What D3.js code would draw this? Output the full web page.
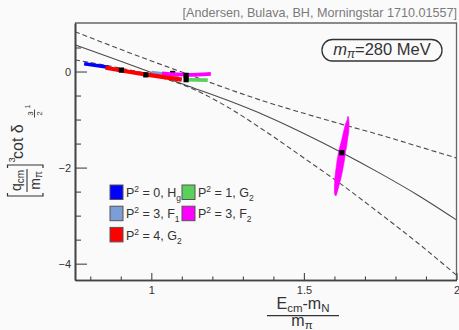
<!DOCTYPE html>
<html>
<head>
<meta charset="utf-8">
<script src="https://cdn.jsdelivr.net/npm/d3@7"></script>
<style>
  html, body { margin: 0; padding: 0; background: #fafafa; }
  svg { display: block; }
  text { font-family: "Liberation Sans", Arial, sans-serif; fill: #333; }
</style>
</head>
<body>
<svg id="chart" width="459" height="330"></svg>
<script>
// ---- fit curves sampled in (E_cm - m_N)/m_pi ----
const curveX     = [0.75, 0.875, 1.0, 1.125, 1.25, 1.375, 1.5, 1.625, 1.75, 1.875, 2.0];
const fitCentral = [0.556, 0.27, -0.02, -0.31, -0.60, -0.92, -1.29, -1.69, -2.12, -2.58, -3.09];
const fitUpper   = [0.83, 0.52, 0.22, -0.07, -0.36, -0.63, -0.87, -1.10, -1.32, -1.56, -1.80];
const fitLower   = [0.24, 0.10, -0.07, -0.33, -0.74, -1.25, -1.80, -2.36, -2.96, -3.58, -4.24];

// ---- bootstrap bands per irrep (centre line of each sample cloud) ----
const hgX  = [0.78, 0.86];          const hgY  = [0.16, 0.09];          // P^2=0, Hg
const g2aX = [1.115, 1.185];        const g2aY = [-0.17, -0.18];        // P^2=1, G2
const f1X  = [1.00, 1.09];          const f1Y  = [-0.02, -0.09];        // P^2=3, F1
const f2X  = [1.035, 1.12, 1.195];  const f2Y  = [-0.04, -0.07, -0.05]; // P^2=3, F2 (low level)
const g2bX = [0.85, 0.98, 1.10];    const g2bY = [0.08, -0.06, -0.17];  // P^2=4, G2

// P^2=3, F2 upper level: spread in E at each value of the ordinate
const f2CloudY  = [-0.94, -1.00, -1.10, -1.25, -1.42, -1.56, -1.69, -1.84, -1.98, -2.12, -2.26, -2.40, -2.52, -2.58];
const f2CloudLo = [1.643, 1.642, 1.636, 1.630, 1.624, 1.618, 1.613, 1.609, 1.606, 1.603, 1.601, 1.600, 1.600, 1.602];
const f2CloudHi = [1.646, 1.647, 1.648, 1.647, 1.643, 1.640, 1.636, 1.633, 1.629, 1.625, 1.620, 1.614, 1.609, 1.606];

// ---- mean values ----
const meanX = [0.902, 0.982, 1.114, 1.114, 1.624];
const meanY = [0.03, -0.07, -0.08, -0.17, -1.69];
const hiddenMeanX = [1.07];
const hiddenMeanY = [-0.04];

// ---- axes ----
const xMajor = [1, 1.5, 2];
const xMinor = [0.8, 0.9, 1.1, 1.2, 1.3, 1.4, 1.6, 1.7, 1.8, 1.9];
const yMajor = [0, -2, -4];
const yMinor = [0.5, -0.5, -1, -1.5, -2.5, -3, -3.5];

// ---- legend ----
const legendMom   = ["0", "1", "3", "3", "4"];
const legendIrrep = ["H", "G", "F", "F", "G"];
const legendSub   = ["g", "2", "1", "2", "2"];
const legendColor = ["#0000ff", "#5bd05b", "#7d9dd6", "#ff00ff", "#ff0000"];

const svg = d3.select("#chart");
const frameL = 75, frameR = 456.5, frameT = 23, frameB = 280;

const x = d3.scaleLinear().domain([0.75, 2.0]).range([frameL, frameR]);
const y = d3.scaleLinear().domain([1.01, -4.34]).range([frameT, frameB]);

svg.append("defs").append("clipPath").attr("id", "plot")
  .append("rect").attr("x", frameL).attr("y", frameT)
  .attr("width", frameR - frameL).attr("height", frameB - frameT);

const plot = svg.append("g").attr("clip-path", "url(#plot)");

// fit curves
const fitLine = d3.line().x(d => x(d[0])).y(d => y(d[1])).curve(d3.curveMonotoneX);
const curves = [
  { v: fitUpper, dash: "5,3" },
  { v: fitLower, dash: "5,3" },
  { v: fitCentral, dash: null }
];
curves.forEach(c => {
  plot.append("path")
    .attr("d", fitLine(curveX.map((xx, i) => [xx, c.v[i]])))
    .attr("fill", "none")
    .attr("stroke", "#4a4a4a")
    .attr("stroke-width", 1.1)
    .attr("stroke-dasharray", c.dash);
});

const sq = 5.2;
// mean value sitting under the bands
plot.selectAll("rect.hidden").data(hiddenMeanX).join("rect")
  .attr("x", (d) => x(d) - sq / 2)
  .attr("y", (d, i) => y(hiddenMeanY[i]) - sq / 2)
  .attr("width", sq).attr("height", sq).attr("fill", "#000");

// sample bands
const bandLine = d3.line().x(d => x(d[0])).y(d => y(d[1])).curve(d3.curveMonotoneX);
const bands = [
  { xs: hgX,  ys: hgY,  c: legendColor[0], w: 3.6 },
  { xs: f1X,  ys: f1Y,  c: legendColor[2], w: 3.6 },
  { xs: f2X,  ys: f2Y,  c: legendColor[3], w: 3.8 },
  { xs: g2aX, ys: g2aY, c: legendColor[1], w: 3.6 },
  { xs: g2bX, ys: g2bY, c: legendColor[4], w: 4.2 }
];
bands.forEach(b => {
  plot.append("path")
    .attr("d", bandLine(b.xs.map((xx, i) => [xx, b.ys[i]])))
    .attr("fill", "none")
    .attr("stroke", b.c)
    .attr("stroke-width", b.w)
    .attr("stroke-linecap", "butt");
});

// upper F2 cloud
const cloud = d3.area()
  .y(d => y(d[0])).x0(d => x(d[1])).x1(d => x(d[2]))
  .curve(d3.curveLinear);
plot.append("path")
  .attr("d", cloud(f2CloudY.map((v, i) => [v, f2CloudLo[i], f2CloudHi[i]])))
  .attr("fill", legendColor[3])
  .attr("stroke", legendColor[3])
  .attr("stroke-width", 0.6)
  .attr("stroke-linejoin", "round");

// mean values
plot.selectAll("rect.mean").data(meanX).join("rect")
  .attr("class", "mean")
  .attr("x", d => x(d) - sq / 2)
  .attr("y", (d, i) => y(meanY[i]) - sq / 2)
  .attr("width", sq).attr("height", sq).attr("fill", "#000");

// frame
svg.append("path")
  .attr("d", `M${frameL},${frameT}H${frameR}V${frameB}`)
  .attr("fill", "none").attr("stroke", "#666").attr("stroke-width", 1.3);

// x axis
const xAxisMinor = d3.axisBottom(x).tickValues(xMinor).tickSizeInner(-3.5).tickSizeOuter(0).tickFormat("");
const xAxisMajor = d3.axisBottom(x).tickValues(xMajor).tickSizeInner(-7).tickSizeOuter(0)
  .tickPadding(6).tickFormat(d3.format("~g"));
[xAxisMinor, xAxisMajor].forEach(ax => {
  const g = svg.append("g").attr("transform", `translate(0,${frameB})`).call(ax);
  g.select(".domain").attr("stroke", "#444").attr("stroke-width", 1.6);
  g.selectAll(".tick line").attr("stroke", "#444").attr("stroke-width", 1.1);
  g.selectAll("text").attr("font-size", 11).attr("fill", "#333")
    .attr("font-family", "Liberation Sans, Arial, sans-serif");
});

// y axis
const yAxisMinor = d3.axisLeft(y).tickValues(yMinor).tickSizeInner(-6).tickSizeOuter(0).tickFormat("");
const yAxisMajor = d3.axisLeft(y).tickValues(yMajor).tickSizeInner(-12).tickSizeOuter(0)
  .tickPadding(4).tickFormat(d3.format("~g"));
[yAxisMinor, yAxisMajor].forEach(ax => {
  const g = svg.append("g").attr("transform", `translate(${frameL},0)`).call(ax);
  g.select(".domain").attr("stroke", "#444").attr("stroke-width", 1.6);
  g.selectAll(".tick line").attr("stroke", "#444").attr("stroke-width", 1.1);
  g.selectAll("text").attr("font-size", 11).attr("fill", "#333")
    .attr("font-family", "Liberation Sans, Arial, sans-serif");
});

// legend
const legend = svg.append("g");
legendMom.forEach((m, i) => {
  const col = i < 4 ? i % 2 : 0;
  const row = Math.floor(i / 2);
  const bx = col === 0 ? 110 : 182;
  const by = 185 + row * 21.2;
  legend.append("rect")
    .attr("x", bx).attr("y", by).attr("width", 13).attr("height", 14.5)
    .attr("fill", legendColor[i]).attr("stroke", "#555").attr("stroke-width", 1);
  const t = legend.append("text")
    .attr("x", bx + 16).attr("y", by + 12.2).attr("font-size", 12.5);
  t.append("tspan").text("P");
  t.append("tspan").attr("font-size", 8.5).attr("dy", -5).text("2");
  t.append("tspan").attr("dy", 5).text(` = ${m}, ${legendIrrep[i]}`);
  t.append("tspan").attr("font-size", 8.5).attr("dy", 4).text(legendSub[i]);
});

// x-axis title as a fraction
const xt = svg.append("text").attr("x", 303).attr("y", 308.5)
  .attr("text-anchor", "middle").attr("font-size", 16);
xt.append("tspan").text("E");
xt.append("tspan").attr("font-size", 11.5).attr("dy", 3).text("cm");
xt.append("tspan").attr("dy", -3).text("-m");
xt.append("tspan").attr("font-size", 11.5).attr("dy", 3).text("N");
svg.append("line").attr("x1", 267).attr("x2", 339).attr("y1", 315.7).attr("y2", 315.7)
  .attr("stroke", "#333").attr("stroke-width", 1.2);
const xd = svg.append("text").attr("x", 302).attr("y", 326)
  .attr("text-anchor", "middle").attr("font-size", 16);
xd.append("tspan").text("m");
xd.append("tspan").attr("font-size", 11.5).attr("dy", 2.5).text("π");

// y-axis title, rotated: local x = -page y, local y = page x
const yl = svg.append("g").attr("transform", "rotate(-90)");
yl.append("path").attr("d", "M-193,7.5L-196,7.5L-196,43L-193,43")
  .attr("fill", "none").attr("stroke", "#333").attr("stroke-width", 1.2);
yl.append("path").attr("d", "M-168,7.5L-165,7.5L-165,43L-168,43")
  .attr("fill", "none").attr("stroke", "#333").attr("stroke-width", 1.2);
yl.append("line").attr("x1", -192).attr("x2", -169).attr("y1", 27).attr("y2", 27)
  .attr("stroke", "#333").attr("stroke-width", 1.1);
const qn = yl.append("text").attr("x", -180.5).attr("y", 21).attr("text-anchor", "middle").attr("font-size", 14);
qn.append("tspan").text("q");
qn.append("tspan").attr("font-size", 10).attr("dy", 3).text("cm");
const qd = yl.append("text").attr("x", -180.5).attr("y", 39.5).attr("text-anchor", "middle").attr("font-size", 14);
qd.append("tspan").text("m");
qd.append("tspan").attr("font-size", 10).attr("dy", 2.5).text("π");
yl.append("text").attr("x", -162.5).attr("y", 14.5).attr("font-size", 9.5).text("3");
yl.append("text").attr("x", -159).attr("y", 23).attr("font-size", 16).text("cot δ");
yl.append("text").attr("x", -113.5).attr("y", 32.5).attr("text-anchor", "middle").attr("font-size", 8).text("3");
yl.append("line").attr("x1", -117.5).attr("x2", -109.5).attr("y1", 34.5).attr("y2", 34.5)
  .attr("stroke", "#333").attr("stroke-width", 0.9);
yl.append("text").attr("x", -113.5).attr("y", 42).attr("text-anchor", "middle").attr("font-size", 8).text("2");
yl.append("text").attr("x", -108.5).attr("y", 29.5).attr("font-size", 7).text("1");

// citation
svg.append("text").attr("x", 457).attr("y", 17).attr("text-anchor", "end")
  .attr("font-family", "Open Sans, sans-serif").attr("font-size", 12.6)
  .style("fill", "#7a7a7a")
  .text("[Andersen, Bulava, BH, Morningstar 1710.01557]");

// pion-mass tag
svg.append("rect").attr("x", 322).attr("y", 39.5).attr("width", 120).attr("height", 21.5)
  .attr("rx", 10.5).attr("fill", "none").attr("stroke", "#333").attr("stroke-width", 1.3);
const mt = svg.append("text").attr("x", 382).attr("y", 55).attr("text-anchor", "middle")
  .attr("font-family", "Liberation Serif, serif").attr("font-size", 16.5);
mt.append("tspan").attr("font-style", "italic").text("m");
mt.append("tspan").attr("font-style", "italic").attr("font-size", 12).attr("dy", 3).text("π");
mt.append("tspan").attr("dy", -3).text("=280 MeV");
</script>
</body>
</html>
